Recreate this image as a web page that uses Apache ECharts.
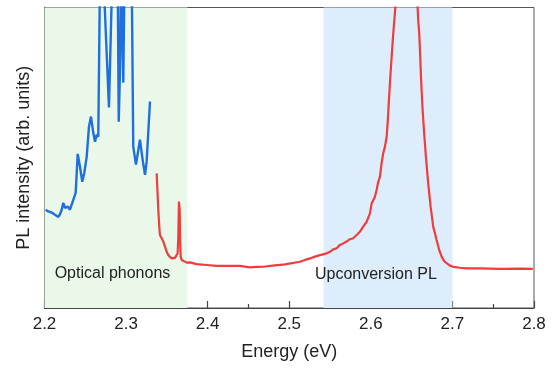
<!DOCTYPE html>
<html><head><meta charset="utf-8">
<script src="https://cdn.jsdelivr.net/npm/echarts@6/dist/echarts.min.js"></script>
<style>html,body{margin:0;padding:0;background:#fff}#c{width:552px;height:369px}</style>
</head><body><div id="c"></div>
<script>
// Energy (eV) and intensity (arb. units, 0-100 plot range)
const blueEnergy = [2.2015,2.2040,2.2067,2.2100,2.2129,2.2169,2.2190,2.2211,2.2230,2.2251,2.2270,2.2288,2.2312,2.2353,2.2382,2.2407,2.2435,2.2463,2.2488,2.2517,2.2545,2.2570,2.2598,2.2619,2.2640,2.2659,2.2680,2.2700,2.2723,2.2790,2.2830,2.2860,2.2897,2.2910,2.2925,2.2938,2.2966,2.2980,2.3000,2.3069,2.3088,2.3121,2.3170,2.3203,2.3232,2.3252,2.3272,2.3293];
const blueValue  = [32.7,32.2,32,31.6,31,30.3,31.2,32.7,35,33.3,33.9,33.7,32.7,36,38.3,51.3,47,42,45,50.3,60.3,63.7,58.3,55.3,57.7,57,110,130,110,66.7,110,130,110,62,78.7,110,75,110,130,110,53.7,47.7,56,49.3,44.3,48.7,49.3,68.7];
const redEnergy = [2.3375,2.3382,2.3395,2.3407,2.3415,2.3436,2.3456,2.3477,2.3498,2.3517,2.3538,2.3559,2.3578,2.3599,2.3620,2.3632,2.3640,2.3648,2.3657,2.3661,2.3669,2.3681,2.3701,2.3743,2.3783,2.3865,2.3988,2.4110,2.4233,2.4396,2.4518,2.4600,2.4702,2.4825,2.4947,2.5131,2.5193,2.5254,2.5315,2.5376,2.5438,2.5499,2.5539,2.5581,2.5621,2.5662,2.5703,2.5744,2.5784,2.5826,2.5866,2.5907,2.5949,2.5989,2.6010,2.6050,2.6071,2.6091,2.6112,2.6132,2.6152,2.6173,2.6194,2.6206,2.6222,2.6234,2.6255,2.6275,2.6295,2.6307,2.6430,2.6574,2.6581,2.6593,2.6602,2.6618,2.6635,2.6651,2.6675,2.6703,2.6733,2.6765,2.6786,2.6806,2.6838,2.6868,2.6896,2.6929,2.6969,2.7010,2.7092,2.7174,2.7337,2.7582,2.7827,2.7986];
const redValue  = [44.8,40.4,32.6,27.1,24.3,23.2,22.1,20.4,18.7,17.6,17.1,16.5,16.3,16.7,17.1,18.2,23.7,35.4,32.6,23.7,17.1,16.0,15.4,15.1,15.2,14.6,14.3,14.0,14.0,14.0,13.5,13.7,13.8,14.2,14.5,15.4,16.0,16.5,17.1,17.6,18.0,18.7,19.5,19.9,21.0,21.5,22.1,22.9,23.2,24.3,25.4,27.1,28.7,31.5,34.8,37.0,39.3,42.0,43.7,48.2,51.5,53.7,57.0,61.5,69.2,74.8,83.6,91.4,98.1,102.7,136,99.7,95.8,91.4,85.9,74.8,65.9,59.2,50.3,41.5,33.7,27.0,24.9,22.6,19.3,17.1,15.7,14.9,14.1,13.7,13.4,13.2,13.2,13.0,13.1,13.0];
const shadeRanges = [[2.2, 2.375], [2.542, 2.70]];
const shadeColors = ['#eaf8ea', '#ddedfb'];
const annotations = [{text: 'Optical phonons', x: 2.2833, y: 11.6}, {text: 'Upconversion PL', x: 2.6062, y: 11.0}];
const xTicks = [2.2, 2.3, 2.4, 2.5, 2.6, 2.7, 2.8];

const toPairs = (xs, ys) => xs.map((x, i) => [x, ys[i]]);
const chart = echarts.init(document.getElementById('c'));
const font = 'Liberation Sans, Arial, sans-serif';
chart.setOption({
  animation: false,
  grid: {left: 44.5, right: 18, top: 7.5, bottom: 61, show: true, borderColor: '#555', borderWidth: 1},
  xAxis: {
    type: 'value', min: 2.2, max: 2.8, interval: 0.1,
    axisLine: {show: true, lineStyle: {color: '#444', width: 1.2}},
    axisTick: {show: true, inside: true, length: 7, lineStyle: {color: '#444', width: 1.2}},
    minorTick: {show: true, splitNumber: 2, length: 4, lineStyle: {color: '#444', width: 1.2}},
    splitLine: {show: false},
    axisLabel: {color: '#222', fontSize: 17, fontFamily: font, margin: 8,
      formatter: v => { const t = xTicks.find(k => Math.abs(k - v) < 1e-6); return t !== undefined ? t.toFixed(1) : ''; }},
    name: 'Energy (eV)', nameLocation: 'middle', nameGap: 35,
    nameTextStyle: {color: '#222', fontSize: 18, fontFamily: font}
  },
  yAxis: {
    type: 'value', min: 0, max: 100,
    axisLine: {show: true, lineStyle: {color: '#444', width: 1.6}},
    axisTick: {show: false}, axisLabel: {show: false}, splitLine: {show: false},
    name: 'PL intensity (arb. units)', nameLocation: 'middle', nameGap: 11,
    nameTextStyle: {color: '#222', fontSize: 18, fontFamily: font}
  },
  series: [
    {
      type: 'line', data: toPairs(blueEnergy, blueValue), showSymbol: false, clip: true,
      lineStyle: {color: '#1f6fde', width: 2.4}, z: 3,
      markArea: {silent: true, itemStyle: {opacity: 1},
        data: shadeRanges.map((r, i) => [{xAxis: r[0], itemStyle: {color: shadeColors[i]}}, {xAxis: r[1]}])},
      markPoint: {silent: true, symbol: 'rect', symbolSize: 0,
        label: {show: true, color: '#222', fontSize: 16, fontFamily: font, position: 'inside', formatter: p => p.name},
        data: annotations.map(a => ({name: a.text, coord: [a.x, a.y]}))}
    },
    {
      type: 'line', data: toPairs(redEnergy, redValue), showSymbol: false, clip: true,
      lineStyle: {color: '#f03c3c', width: 2.2}, z: 3
    }
  ]
});
</script></body></html>
